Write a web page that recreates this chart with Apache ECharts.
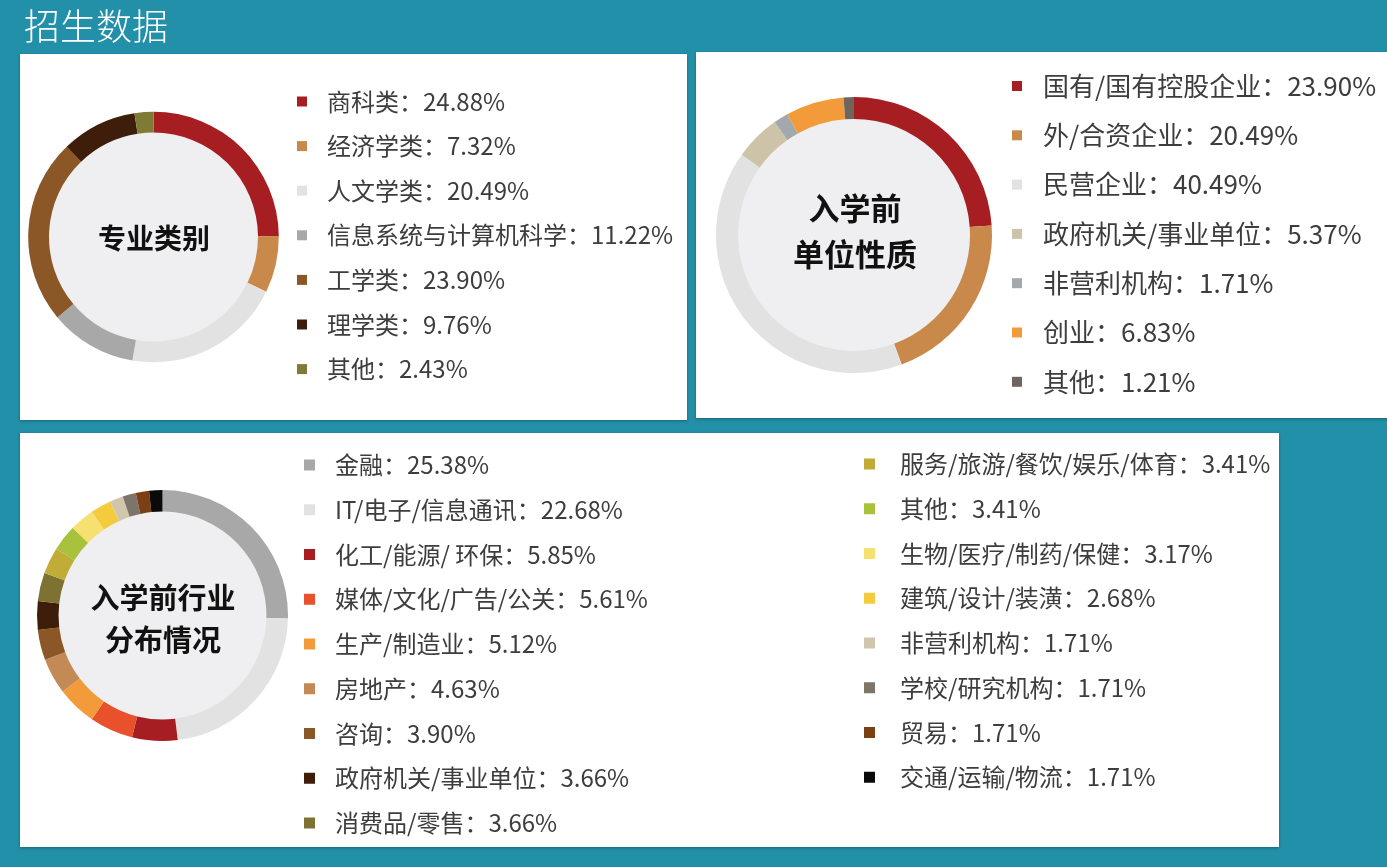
<!DOCTYPE html>
<html><head><meta charset="utf-8">
<script src="https://cdn.jsdelivr.net/npm/echarts@6/dist/echarts.min.js"></script>
<style>html,body{margin:0;padding:0;background:#2290a9;}#c{width:1387px;height:867px;}</style>
</head><body><div id="c"></div>
<script>
// ---- data ----
const majorNames = ['商科类','经济学类','人文学类','信息系统与计算机科学','工学类','理学类','其他'];
const majorValues = [24.88, 7.32, 20.49, 11.22, 23.90, 9.76, 2.43];
const orgNames = ['国有/国有控股企业','外/合资企业','民营企业','政府机关/事业单位','非营利机构','创业','其他'];
const orgValues = [23.90, 20.49, 40.49, 5.37, 1.71, 6.83, 1.21];
const indNames = ['金融','IT/电子/信息通讯','化工/能源/ 环保','媒体/文化/广告/公关','生产/制造业','房地产','咨询','政府机关/事业单位','消费品/零售',
  '服务/旅游/餐饮/娱乐/体育','其他','生物/医疗/制药/保健','建筑/设计/装潢','非营利机构','学校/研究机构','贸易','交通/运输/物流'];
const indValues = [25.38, 22.68, 5.85, 5.61, 5.12, 4.63, 3.90, 3.66, 3.66, 3.41, 3.41, 3.17, 2.68, 1.71, 1.71, 1.71, 1.71];

// ---- palettes ----
const majorColors = ['#a71e22','#c9894b','#e2e2e2','#a8a8a8','#8c5726','#3e1d0a','#7f7a35'];
const orgColors = ['#a71e22','#c9894b','#e2e2e2','#cdc3a8','#a3a8ac','#f39a3a','#6e655c'];
const indColors = ['#a8a8a8','#e2e2e2','#a71e22','#e8512b','#f39a3a','#c38a55','#8c5726','#3e1d0a','#7d7232',
  '#c0ac36','#a9c23c','#f5e070','#f4cb3c','#cfc6ad','#7d746a','#7a3f12','#0a0a0a'];

const FONT = '"Noto Sans CJK SC","Noto Sans",sans-serif';
const chart = echarts.init(document.getElementById('c'));

function pieData(names, values, colors) {
  return names.map((n, i) => ({ name: n, value: values[i], itemStyle: { color: colors[i] } }));
}
function ring(names, values, colors, center, inner, outer) {
  return [{
    type: 'pie', center: center, radius: [0, inner], silent: true, z: 2,
    label: { show: false }, labelLine: { show: false }, legendHoverLink: false,
    data: [{ name: '', value: 1, itemStyle: { color: '#efeff1', shadowBlur: 4, shadowColor: 'rgba(0,0,0,0.18)' } }],
    emphasis: { disabled: true }, tooltip: { show: false }
  }, {
    type: 'pie', center: center, radius: [inner, outer], startAngle: 90, clockwise: true, z: 3,
    label: { show: false }, labelLine: { show: false }, emphasis: { disabled: true },
    itemStyle: { borderWidth: 0 }, padAngle: 0, minAngle: 0,
    data: pieData(names, values, colors)
  }];
}
function legend(names, values, colors, left, top, fontSize, gap, size, pad) {
  const map = {};
  names.forEach((n, i) => map[n] = values[i]);
  return {
    orient: 'vertical', left: left, top: top, padding: 0,
    itemWidth: size, itemHeight: size, itemGap: gap, icon: 'rect', selectedMode: false,
    data: names.map((n, i) => ({ name: n, itemStyle: { color: colors[i], borderWidth: 0 } })),
    formatter: n => n + '：' + map[n].toFixed(2) + '%',
    textStyle: { fontFamily: FONT, fontSize: fontSize, lineHeight: fontSize, color: '#3d3d3d', padding: [0, 0, 0, pad] }
  };
}

const option = {
  backgroundColor: '#2290a9',
  animation: false,
  graphic: [
    { type: 'rect', z: 0, shape: { x: 20, y: 54, width: 667, height: 366 }, style: { fill: '#ffffff', shadowBlur: 3, shadowOffsetY: 1, shadowColor: 'rgba(0,0,0,0.3)' } },
    { type: 'rect', z: 0, shape: { x: 696, y: 52, width: 700, height: 366 }, style: { fill: '#ffffff', shadowBlur: 3, shadowOffsetY: 1, shadowColor: 'rgba(0,0,0,0.3)' } },
    { type: 'rect', z: 0, shape: { x: 20, y: 433, width: 1259, height: 414 }, style: { fill: '#ffffff', shadowBlur: 3, shadowOffsetY: 1, shadowColor: 'rgba(0,0,0,0.3)' } },
    { type: 'text', z: 10, x: 24, y: 26, style: { text: '招生数据', fill: '#ffffff', font: '300 36px ' + FONT, textVerticalAlign: 'middle' } },
    { type: 'text', z: 10, x: 154, y: 238, style: { text: '专业类别', fill: '#111', font: 'bold 28px ' + FONT, textAlign: 'center', textVerticalAlign: 'middle' } },
    { type: 'text', z: 10, x: 855, y: 231, style: { text: '入学前\n单位性质', fill: '#111', font: 'bold 31px ' + FONT, lineHeight: 46, textAlign: 'center', textVerticalAlign: 'middle' } },
    { type: 'text', z: 10, x: 163, y: 619, style: { text: '入学前行业\n分布情况', fill: '#111', font: 'bold 29px ' + FONT, lineHeight: 42, textAlign: 'center', textVerticalAlign: 'middle' } }
  ],
  legend: [
    legend(majorNames, majorValues, majorColors, 297, 89.5, 24, 20.6, 10, 15),
    legend(orgNames, orgValues, orgColors, 1012, 73, 26, 23.3, 10, 16),
    legend(indNames.slice(0, 9), indValues.slice(0, 9), indColors.slice(0, 9), 304, 453, 24, 20.75, 11, 15),
    legend(indNames.slice(9), indValues.slice(9), indColors.slice(9), 864, 452, 24, 20.75, 11, 20)
  ],
  series: [].concat(
    ring(majorNames, majorValues, majorColors, [153.5, 237], 104.5, 125.3),
    ring(orgNames, orgValues, orgColors, [854, 235], 116, 138),
    ring(indNames, indValues, indColors, [162.5, 615.5], 104, 125.5)
  )
};
chart.setOption(option);
</script></body></html>
